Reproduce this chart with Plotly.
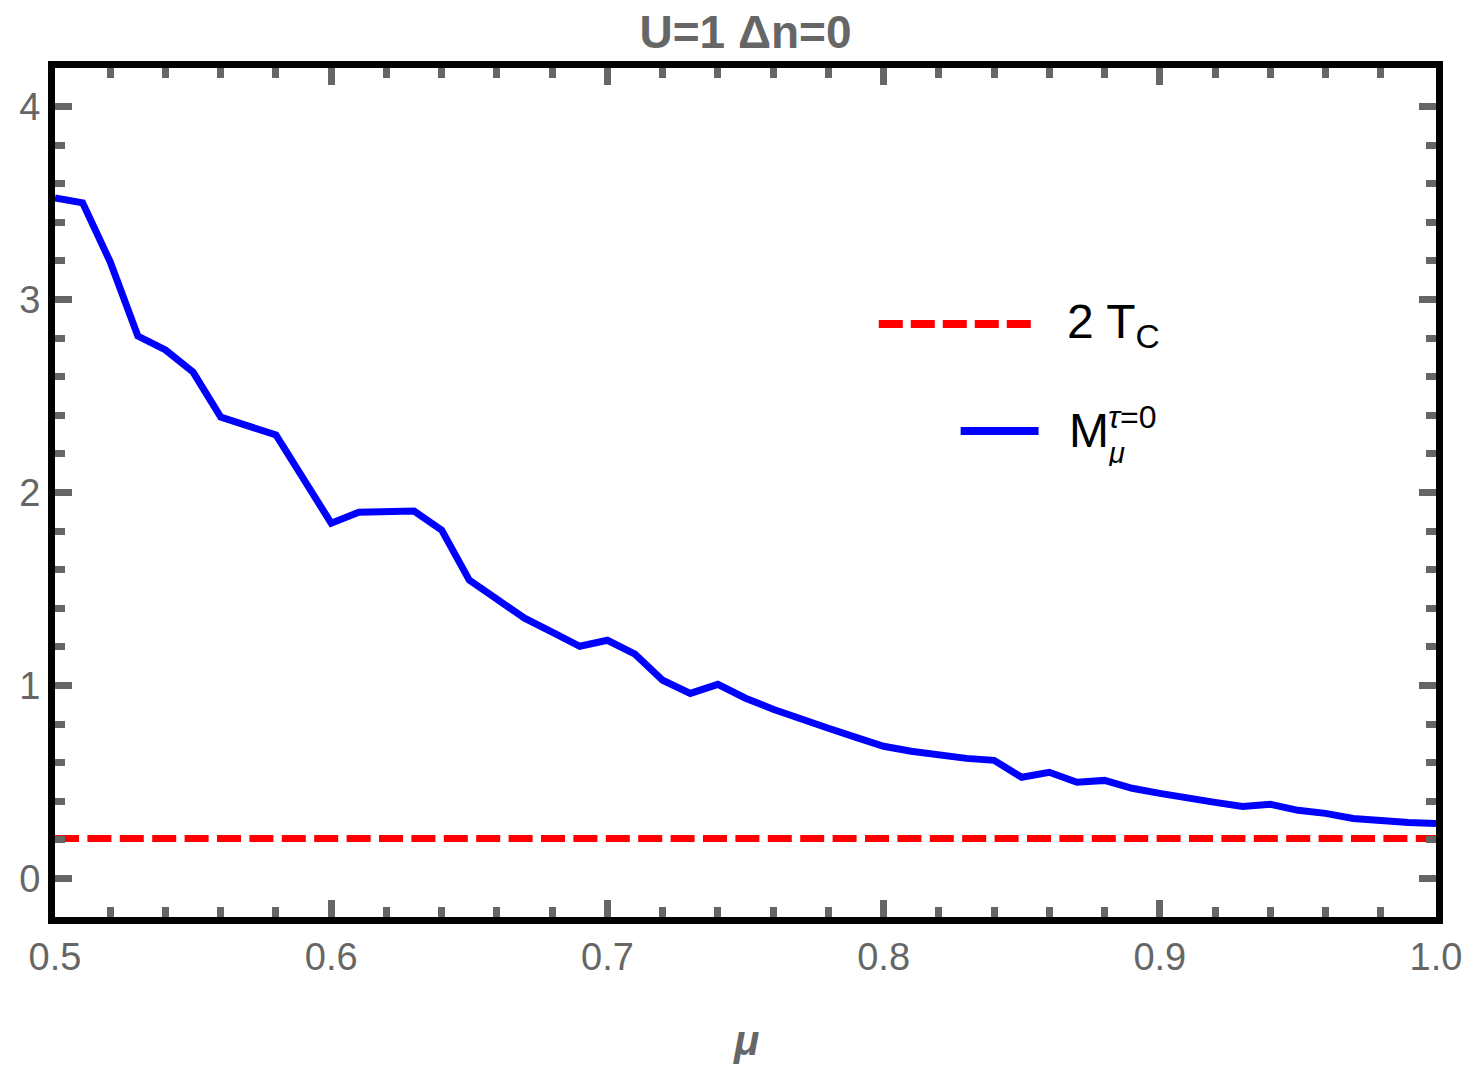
import plotly.graph_objects as go

# chemical potential grid
mu = [0.50, 0.51, 0.52, 0.53, 0.54, 0.55, 0.56, 0.57, 0.58, 0.59,
      0.60, 0.61, 0.62, 0.63, 0.64, 0.65, 0.66, 0.67, 0.68, 0.69,
      0.70, 0.71, 0.72, 0.73, 0.74, 0.75, 0.76, 0.77, 0.78, 0.79,
      0.80, 0.81, 0.82, 0.83, 0.84, 0.85, 0.86, 0.87, 0.88, 0.89,
      0.90, 0.91, 0.92, 0.93, 0.94, 0.95, 0.96, 0.97, 0.98, 0.99,
      1.00]

# M_mu at tau = 0
m_tau0 = [3.527, 3.501, 3.195, 2.811, 2.739, 2.624, 2.391, 2.344, 2.298, 2.070,
          1.841, 1.898, 1.901, 1.904, 1.805, 1.546, 1.447, 1.349, 1.276, 1.203,
          1.234, 1.162, 1.027, 0.959, 1.006, 0.934, 0.877, 0.825, 0.778, 0.731,
          0.685, 0.659, 0.638, 0.622, 0.612, 0.524, 0.550, 0.498, 0.508, 0.467,
          0.441, 0.415, 0.394, 0.373, 0.384, 0.353, 0.337, 0.311, 0.296, 0.290,
          0.285]

# twice the critical temperature
two_tc = 0.207
mu_span = [0.5, 1.0]

x_ticks = [0.5, 0.6, 0.7, 0.8, 0.9, 1.0]
x_tick_text = ["0.5", "0.6", "0.7", "0.8", "0.9", "1.0"]
y_ticks = [0, 1, 2, 3, 4]
y_tick_text = ["0", "1", "2", "3", "4"]

FONT = "Liberation Sans, Arial, Helvetica, sans-serif"
GRAY = "#666666"

fig = go.Figure()
fig.add_trace(go.Scatter(
    x=mu_span, y=[two_tc, two_tc], mode="lines",
    line=dict(color="#ff0000", width=7, dash="24px,8.4px"),
    name="2 T_C", showlegend=False, hoverinfo="skip"))
fig.add_trace(go.Scatter(
    x=mu, y=m_tau0, mode="lines",
    line=dict(color="#0000ff", width=7),
    name="M", showlegend=False))

axis_common = dict(
    showgrid=False, zeroline=False,
    showline=True, linecolor="black", linewidth=7,
    mirror="allticks", ticks="inside", tickcolor=GRAY, tickwidth=7, ticklen=17,
    tickfont=dict(family=FONT, size=38, color=GRAY),
)

fig.update_xaxes(
    range=[0.5, 1.0], tickvals=x_ticks, ticktext=x_tick_text,
    minor=dict(ticks="inside", ticklen=10, tickwidth=7, tickcolor=GRAY,
               tick0=0.5, dtick=0.02),
    **axis_common)
fig.update_yaxes(
    range=[-0.2, 4.2], tickvals=y_ticks, ticktext=y_tick_text,
    minor=dict(ticks="inside", ticklen=10, tickwidth=7, tickcolor=GRAY,
               tick0=0, dtick=0.2),
    **axis_common)

# legend keys
fig.add_shape(type="line", xref="paper", yref="paper",
              x0=0.5965, x1=0.708, y0=0.6985, y1=0.6985,
              line=dict(color="#ff0000", width=8, dash="24px,8px"))
fig.add_shape(type="line", xref="paper", yref="paper",
              x0=0.6558, x1=0.7122, y0=0.5724, y1=0.5724,
              line=dict(color="#0000ff", width=8))

# legend labels
fig.add_annotation(xref="paper", yref="paper", x=0.7317, y=0.6973,
                   xanchor="left", yanchor="middle", showarrow=False,
                   text="2 T<sub>C</sub>",
                   font=dict(family=FONT, size=48, color="black"))
fig.add_annotation(xref="paper", yref="paper", x=0.7325, y=0.5736,
                   xanchor="left", yanchor="middle", showarrow=False,
                   text="M", font=dict(family=FONT, size=48, color="black"))
# stacked superscript / subscript of M
fig.add_annotation(xref="paper", yref="paper", x=0.7614, y=0.5889,
                   xanchor="left", yanchor="middle", showarrow=False,
                   height=26, valign="middle",
                   text="<i>τ</i>=0", font=dict(family=FONT, size=32, color="black"))
fig.add_annotation(xref="paper", yref="paper", x=0.7614, y=0.5465,
                   xanchor="left", yanchor="middle", showarrow=False,
                   height=26, valign="middle",
                   text="<i>μ</i>", font=dict(family=FONT, size=29, color="black"))

# axis label
fig.add_annotation(xref="paper", yref="paper", x=0.5, y=-0.145,
                   xanchor="center", yanchor="middle", showarrow=False,
                   text="<b><i>μ</i></b>", font=dict(family=FONT, size=42, color=GRAY))

fig.update_layout(
    width=1474, height=1066,
    margin=dict(l=55, r=36, t=68, b=149),
    paper_bgcolor="white", plot_bgcolor="white",
    showlegend=False,
    title=dict(text="U=1 Δn=0", x=0.5, xref="paper", xanchor="center",
               y=1 - 32 / 1066, yref="container", yanchor="middle",
               font=dict(family=FONT, size=46, color=GRAY, weight="bold")),
)

fig.write_html("out.html")
